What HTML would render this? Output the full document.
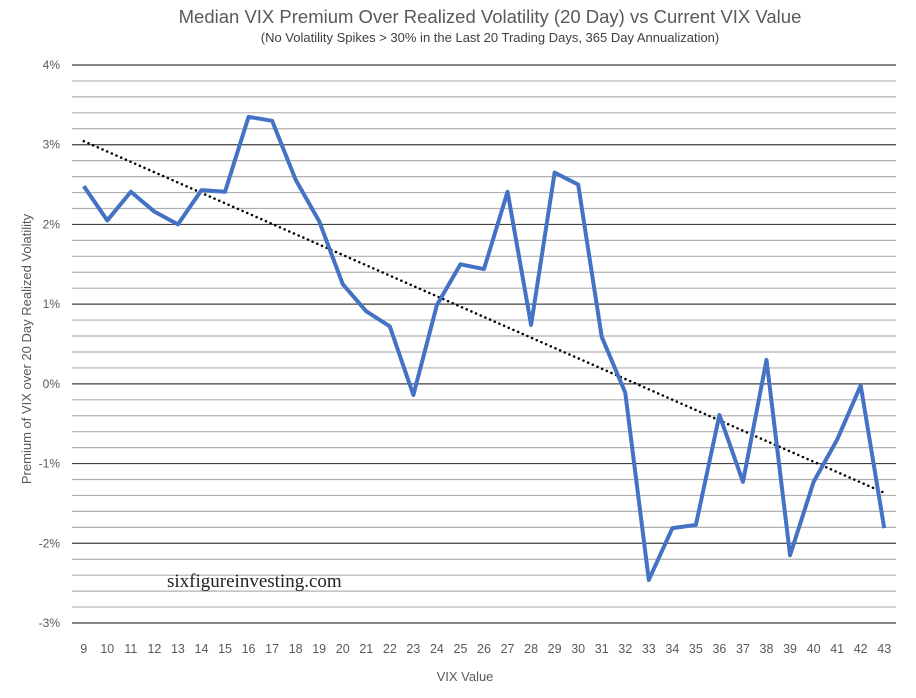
<!DOCTYPE html>
<html><head><meta charset="utf-8"><style>
body{margin:0;background:#fff;}
svg{display:block;font-family:"Liberation Sans",sans-serif;}
</style></head><body>
<svg id="chart" width="916" height="698" viewBox="0 0 916 698">
<text x="490" y="23" text-anchor="middle" font-size="18.5" fill="#595959">Median VIX Premium Over Realized Volatility (20 Day) vs Current VIX Value</text>
<text x="490" y="42" text-anchor="middle" font-size="13" fill="#404040">(No Volatility Spikes &gt; 30% in the Last 20 Trading Days, 365 Day Annualization)</text>
<g id="grid"></g>
<g id="yticks"></g>
<g id="xticks"></g>
<text x="465" y="681" text-anchor="middle" font-size="13" fill="#595959">VIX Value</text>
<text transform="translate(31,349) rotate(-90)" text-anchor="middle" font-size="13" fill="#595959">Premium of VIX over 20 Day Realized Volatility</text>
<text x="167" y="587" font-family="'Liberation Serif',serif" font-size="19" fill="#222">sixfigureinvesting.com</text>
<path id="trend" fill="none" stroke="#000" stroke-width="2.5" stroke-dasharray="0.1 5" stroke-linecap="round"/>
<path id="series" fill="none" stroke="#4472C4" stroke-width="4" stroke-linejoin="round"/>
</svg>
<script>
const categories=[9,10,11,12,13,14,15,16,17,18,19,20,21,22,23,24,25,26,27,28,29,30,31,32,33,34,35,36,37,38,39,40,41,42,43];
const premiumValues=[2.48,2.05,2.41,2.16,2.00,2.43,2.41,3.35,3.30,2.56,2.04,1.25,0.91,0.72,-0.14,0.99,1.50,1.44,2.41,0.74,2.65,2.50,0.59,-0.11,-2.46,-1.81,-1.77,-0.39,-1.23,0.30,-2.15,-1.23,-0.70,-0.02,-1.81];
const yTickValues=[4,3,2,1,0,-1,-2,-3];
const yTickLabels=["4%","3%","2%","1%","0%","-1%","-2%","-3%"];
const NS="http://www.w3.org/2000/svg";
const L=72,R=896,T=65,B=623,yMax=4,yMin=-3;
const yS=v=>T+(yMax-v)*(B-T)/(yMax-yMin);
const bw=(R-L)/categories.length;
const xS=i=>L+bw*(i+0.5);
function mk(tag,parent){const e=document.createElementNS(NS,tag);document.getElementById(parent).appendChild(e);return e;}
for(let k=0;k<=35;k++){const v=yMax-k*0.2;const major=k%5===0;
 const ln=mk('line','grid');
 
 
 ln.setAttribute('x1',L);ln.setAttribute('x2',R);ln.setAttribute('y1',yS(v));ln.setAttribute('y2',yS(v));
 ln.setAttribute('stroke',major?'#404040':'#b0b0b0');ln.setAttribute('stroke-width',major?1.2:1.2);}
yTickValues.forEach((v,i)=>{const t=mk('text','yticks');
 
 
 t.setAttribute('x',60);t.setAttribute('y',yS(v)+4);t.setAttribute('text-anchor','end');t.setAttribute('font-size','12');t.setAttribute('fill','#595959');t.textContent=yTickLabels[i];});
categories.forEach((c,i)=>{const t=mk('text','xticks');
 
 
 t.setAttribute('x',xS(i));t.setAttribute('y',653);t.setAttribute('text-anchor','middle');t.setAttribute('font-size','12.5');t.setAttribute('fill','#595959');t.textContent=c;});
document.getElementById('series').setAttribute('d',premiumValues.map((v,i)=>(i?'L':'M')+xS(i)+' '+yS(v)).join(''));
const n=premiumValues.length;let sx=0,sy=0,sxx=0,sxy=0;
premiumValues.forEach((v,i)=>{const x=i+1;sx+=x;sy+=v;sxx+=x*x;sxy+=x*v;});
const m=(n*sxy-sx*sy)/(n*sxx-sx*sx),b=(sy-m*sx)/n;
document.getElementById('trend').setAttribute('d','M'+xS(0)+' '+yS(m*1+b)+'L'+xS(n-1)+' '+yS(m*n+b));
</script>
</body></html>
